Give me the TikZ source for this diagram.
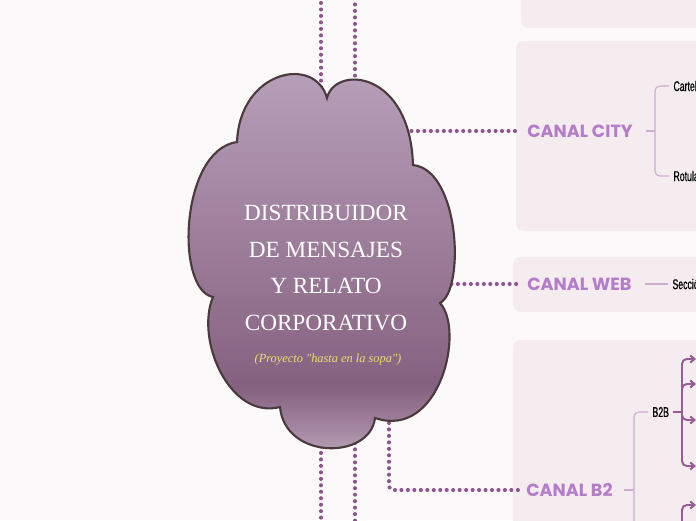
\documentclass[tikz,border=0pt]{standalone}
\usepackage{fontspec}
\usepackage{tikz}
\usetikzlibrary{arrows.meta, positioning, calc}
\newfontfamily\cloudfont{Liberation Serif}
\newfontfamily\canalfont{Poppins}
\newfontfamily\leaffont{Liberation Sans}[FakeStretch=0.62, FakeBold=0.6]
\definecolor{bgpage}{RGB}{252,249,251}
\definecolor{panelfill}{RGB}{244,236,238}
\definecolor{cloudtop}{RGB}{186,162,188}
\definecolor{clouddark}{RGB}{133,97,128}
\definecolor{cloudbot}{RGB}{188,164,188}
\definecolor{cloudline}{RGB}{74,58,60}
\definecolor{dotpurple}{RGB}{142,84,142}
\definecolor{canalpurple}{RGB}{180,124,202}
\definecolor{twiglight}{RGB}{208,170,208}
\definecolor{twigdark}{RGB}{152,92,150}
\definecolor{subyellow}{RGB}{234,224,112}
\pgfdeclareverticalshading{cloudfade}{100bp}{color(0bp)=(cloudbot); color(25bp)=(cloudbot);
  color(34bp)=(clouddark); color(75bp)=(cloudtop); color(100bp)=(cloudtop)}
\tikzset{
  panel/.style={fill=panelfill, rounded corners=0.2cm},
  cloudbody/.style={shading=cloudfade, draw=cloudline, line width=1.5pt},
  dotlink/.style={draw=dotpurple, line width=2.9pt, line cap=round,
    dash pattern=on 0pt off 4.6pt},
  coretext/.style={font=\cloudfont\fontsize{16.5}{26}\selectfont, text=white,
    align=center, inner sep=0pt},
  subtext/.style={font=\cloudfont\itshape\fontsize{8.8}{10}\selectfont,
    text=subyellow, inner sep=0pt},
  canal/.style={font=\canalfont\bfseries\fontsize{12.5}{12.5}\selectfont,
    text=canalpurple, inner sep=0pt, anchor=west},
  leaf/.style={font=\leaffont\fontsize{10}{10}\selectfont, text=black,
    inner xsep=3pt, inner ysep=0pt, anchor=west},
  twig/.style={draw=twiglight, line width=0.8pt, rounded corners=0.12cm},
  stem/.style={draw=twigdark, line width=1.4pt},
  shoot/.style={draw=twigdark, line width=1.4pt, rounded corners=0.12cm,
    -{Straight Barb[length=3pt,width=5pt]}}
}
\begin{document}
\begin{tikzpicture}[x=0.025cm, y=-0.025cm]
  % ── Page and panels ───────────────────────────────────────────────────────
  \fill[bgpage] (0,0) rectangle (696,520);
  \useasboundingbox (0,0) rectangle (696,520);
  \fill[panel] (521,-20) rectangle (710,28);
  \fill[panel] (516,41) rectangle (710,231);
  \fill[panel] (513,257) rectangle (710,312);
  \fill[panel] (513,340) rectangle (710,540);

  % ── Branch labels ─────────────────────────────────────────────────────────
  \node[canal] (city) at (527,131) {CANAL CITY};
  \node[canal] (web) at (527,284) {CANAL WEB};
  \node[canal] (btwo) at (526,490) {CANAL B2};

  % ── Dotted links (under the cloud) ────────────────────────────────────────
  \coordinate (upleft) at (321,-5);
  \coordinate (upright) at (355,-5);
  \coordinate (downleft) at (321,530);
  \coordinate (downright) at (355,530);
  \coordinate (topportl) at (321,100);
  \coordinate (topportr) at (355,95);
  \coordinate (botportl) at (321,440);
  \coordinate (botportr) at (355,430);
  \coordinate (cityport) at (405,131);
  \coordinate (webport) at (445,284);
  \coordinate (btwoport) at (389,410);
  \draw[dotlink] (topportl) -- (upleft);
  \draw[dotlink] (topportr) -- (upright);
  \draw[dotlink] (botportl) -- (downleft);
  \draw[dotlink] (botportr) -- (downright);
  \draw[dotlink, shorten >=5pt] (cityport) -- (city.west);
  \draw[dotlink, shorten >=5pt] (webport) -- (web.west);
  \draw[dotlink, shorten >=5pt, rounded corners=0.1cm] (btwoport) |- (btwo.west);

  % ── Central cloud ─────────────────────────────────────────────────────────
  \shade[cloudbody] (237,142) .. controls (240,70) and (315,55) .. (327,98)
    .. controls (335,65) and (410,70) .. (413,165)
    .. controls (460,170) and (465,290) .. (440,303)
    .. controls (465,330) and (440,440) .. (375,418)
    .. controls (370,460) and (285,460) .. (280,407)
    .. controls (230,420) and (195,340) .. (213,297)
    .. controls (175,290) and (180,150) .. (237,142) -- cycle;
  \node[coretext] (core) at (326,268) {DISTRIBUIDOR\\DE MENSAJES\\Y RELATO\\CORPORATIVO};
  \node[subtext] (motto) at (328,360) {(Proyecto "hasta en la sopa")};

  % ── Canal City ────────────────────────────────────────────────────────────
  \node[leaf] (cartel) at (669,86) {Cartel};
  \node[leaf] (rotula) at (669,176) {Rotula};
  \coordinate (citystub) at (646,131);
  \coordinate (cityfork) at (655,131);
  \draw[twig] (citystub) -- (cityfork);
  \draw[twig] (cartel.west) -| (cityfork) |- (rotula.west);

  % ── Canal Web ─────────────────────────────────────────────────────────────
  \node[leaf] (seccion) at (668,284) {Secció};
  \coordinate (webstub) at (645,284);
  \draw[twig] (webstub) -- (seccion.west);

  % ── Canal B2 ──────────────────────────────────────────────────────────────
  \node[leaf] (btob) at (648,412) {B2B};
  \coordinate (btwostub) at (624,490);
  \coordinate (btwofork) at (634,490);
  \coordinate (btwodown) at (634,530);
  \draw[twig] (btwostub) -- (btwofork);
  \draw[twig] (btob.west) -| (btwodown);

  \coordinate (btobfork) at (682,412);
  \draw[stem] (btob.east) -- (btobfork);
  \draw[shoot] (btobfork) |- (696,359);
  \draw[shoot] (btobfork) |- (696,384);
  \draw[shoot] (btobfork) |- (696,420);
  \draw[shoot] (btobfork) |- (696,466);
  \draw[shoot] (682,530) |- (696,505);
\end{tikzpicture}
\end{document}
